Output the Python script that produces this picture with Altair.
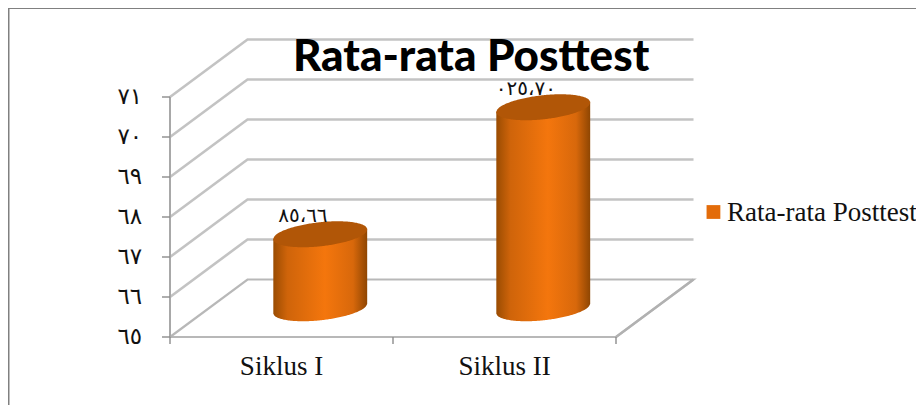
import math
import numpy as np
import pandas as pd
import altair as alt

categories = ["Siklus I", "Siklus II"]
series_values = [66.85, 70.025]
value_labels = ["٨٥،٦٦", "٠٢٥،٧٠"]
axis_values = [65, 66, 67, 68, 69, 70, 71]
axis_labels = ["٦٥", "٦٦", "٦٧", "٦٨", "٦٩", "٧٠", "٧١"]
series_name = "Rata-rata Posttest"
title_text = "Rata-rata Posttest"

W, H = 908, 397
PX_X, PX_Y = 223.0, 40.0       # pixels per category / per unit of value
X0, Y0 = 162.0, 329.0          # where category edge 0 and value 65 land
DX, DY = 77.5 / PX_X, 57.5 / PX_Y   # the oblique depth offset of the 3D box

x_scale = alt.Scale(domain=[-X0 / PX_X, (W - X0) / PX_X], range=[0, W], nice=False, zero=False)
y_scale = alt.Scale(domain=[65 - (H - Y0) / PX_Y, 65 + Y0 / PX_Y], range=[H, 0], nice=False, zero=False)
X = lambda f="x": alt.X(f, type="quantitative", scale=x_scale, axis=None)
Y = lambda f="y": alt.Y(f, type="quantitative", scale=y_scale, axis=None)

ncat = len(categories)

# walls
grid = []
for v in axis_values[1:]:
    for o, (c, d) in enumerate([(0, 0), (0, 1), (ncat, 1)]):
        grid.append(dict(v=v, o=o, x=c + d * DX, y=v + d * DY))
floor = []
for o, (c, d) in enumerate([(0, 0), (0, 1), (ncat, 1), (ncat, 0)]):
    floor.append(dict(v=65, o=o, x=c + d * DX, y=65 + d * DY))
floor.append(dict(v=64, o=0, x=0, y=65))
floor.append(dict(v=64, o=1, x=ncat, y=65))
floor.append(dict(v=63, o=0, x=ncat, y=65))
floor.append(dict(v=63, o=1, x=ncat + DX, y=65 + DY))

lines = lambda rows, color, w: alt.Chart(pd.DataFrame(rows)).mark_line(color=color, strokeWidth=w, opacity=0.9).encode(
    x=X(), y=Y(), detail="v:N", order="o:Q")
grid_layer = lines(grid, "#bdbdbd", 2.6)
floor_layer = lines(floor, "#b0b0b0", 2.2)

# axis lines and ticks
y_axis = alt.Chart(pd.DataFrame(dict(x=[0], y=[axis_values[0]], y2=[axis_values[-1]]))).mark_rule(
    color="#a8a8a8", strokeWidth=2).encode(x=X(), y=Y(), y2="y2")
TICK_X = 8 / PX_X
TICK_Y = 7 / PX_Y
y_ticks = alt.Chart(pd.DataFrame(dict(x=[-TICK_X] * len(axis_values), x2=[0] * len(axis_values), y=axis_values))).mark_rule(
    color="#8c8c8c", strokeWidth=1.4).encode(x=X(), x2="x2", y=Y())
x_ticks = alt.Chart(pd.DataFrame(dict(x=list(range(ncat + 1)), y=[65] * (ncat + 1), y2=[65 - TICK_Y] * (ncat + 1)))).mark_rule(
    color="#8c8c8c", strokeWidth=1.4).encode(x=X(), y=Y(), y2="y2")

AR_FONT = "Liberation Serif, DejaVu Sans"
y_text = alt.Chart(pd.DataFrame(dict(x=[-0.125] * len(axis_values), y=axis_values, t=axis_labels))).mark_text(
    align="right", baseline="middle", font=AR_FONT, fontSize=23, color="#111").encode(x=X(), y=Y(), text="t:N")
x_text = alt.Chart(pd.DataFrame(dict(x=[0.5, 1.5], y=[65 - 0.95] * 2, t=categories))).mark_text(
    align="center", baseline="alphabetic", font="Liberation Serif", fontSize=27, color="#111").encode(x=X(), y=Y(), text="t:N")

# cylinders: top and bottom are ellipses lying in the oblique floor plane
A = 43.6 / PX_X
B = 17.5 / PX_X
C = 13.0 / PX_Y
R = math.hypot(A * PX_X, B * PX_X) / PX_X
PHI = math.atan2(B, A)
us = np.linspace(-0.999, 0.999, 81)

def arcs(u):
    a = math.acos(u)
    return C * math.sin(PHI + a), C * math.sin(PHI - a)

body_rows, cap_rows = [], []
for i, (cat, val) in enumerate(zip(categories, series_values)):
    cx = i + 0.5 + DX / 2
    base = 65 + DY / 2
    top = val + DY / 2
    for u in us:
        hi, lo = arcs(float(u))
        hi, lo = max(hi, lo), min(hi, lo)
        x = cx + float(u) * R
        body_rows.append(dict(c=cat, x=x, y=top + (hi + lo) / 2, y2=base + lo))
        cap_rows.append(dict(c=cat, x=x, y=top + hi, y2=top + lo))
body_df = pd.DataFrame(body_rows)
cap_df = pd.DataFrame(cap_rows)

grad = alt.Gradient(gradient="linear", x1=0, x2=1, y1=0, y2=0, stops=[
    alt.GradientStop(offset=0, color="#9a4c02"),
    alt.GradientStop(offset=0.15, color="#cf640a"),
    alt.GradientStop(offset=0.55, color="#f4760d"),
    alt.GradientStop(offset=0.85, color="#d8680b"),
    alt.GradientStop(offset=1, color="#8f4602"),
])
bodies = [alt.Chart(body_df[body_df.c == c]).mark_area(color=grad, opacity=1).encode(x=X(), y=Y(), y2="y2") for c in categories]
caps = [alt.Chart(cap_df[cap_df.c == c]).mark_area(color="#b15607", opacity=1).encode(x=X(), y=Y(), y2="y2") for c in categories]

val_text = alt.Chart(pd.DataFrame(dict(
    x=[i + 0.5 + 0.096 for i in range(ncat)],
    y=[68.03, 71.2],
    t=value_labels))).mark_text(align="center", baseline="middle", font=AR_FONT, fontSize=20, color="#111").encode(
    x=X(), y=Y(), text="t:N")

# title, legend, frame
title = alt.Chart(pd.DataFrame(dict(x=[1.35], y=[65 + 6.65], t=[title_text]))).mark_text(
    align="center", baseline="alphabetic", font="Lato", fontWeight=900, fontSize=44, color="#000").encode(x=X(), y=Y(), text="t:N")
legend_sq = alt.Chart(pd.DataFrame(dict(x=[2.437], y=[65 + 3.125]))).mark_square(size=190, color="#e36c0a", opacity=1).encode(x=X(), y=Y())
legend_tx = alt.Chart(pd.DataFrame(dict(x=[2.498], y=[65 + 2.9], t=[series_name]))).mark_text(
    align="left", baseline="alphabetic", font="Liberation Serif", fontSize=27, color="#111").encode(x=X(), y=Y(), text="t:N")

frame_l = alt.Chart(pd.DataFrame(dict(a=[0]))).mark_rule(color="#808080", strokeWidth=3).encode(
    x=alt.value(0), y=alt.value(0), y2=alt.value(H))
frame_t = alt.Chart(pd.DataFrame(dict(a=[0]))).mark_rule(color="#808080", strokeWidth=2).encode(
    x=alt.value(0), x2=alt.value(W), y=alt.value(0))

chart = alt.layer(
    frame_l, frame_t, grid_layer, floor_layer, y_axis, y_ticks, x_ticks, y_text, x_text,
    *bodies, *caps, val_text, title, legend_sq, legend_tx,
).properties(width=W, height=H, padding=0, autosize=alt.AutoSizeParams(type="none"), background="white"
).configure_view(stroke=None)

chart.save("out.html", embed_options={"renderer": "svg", "actions": False})
